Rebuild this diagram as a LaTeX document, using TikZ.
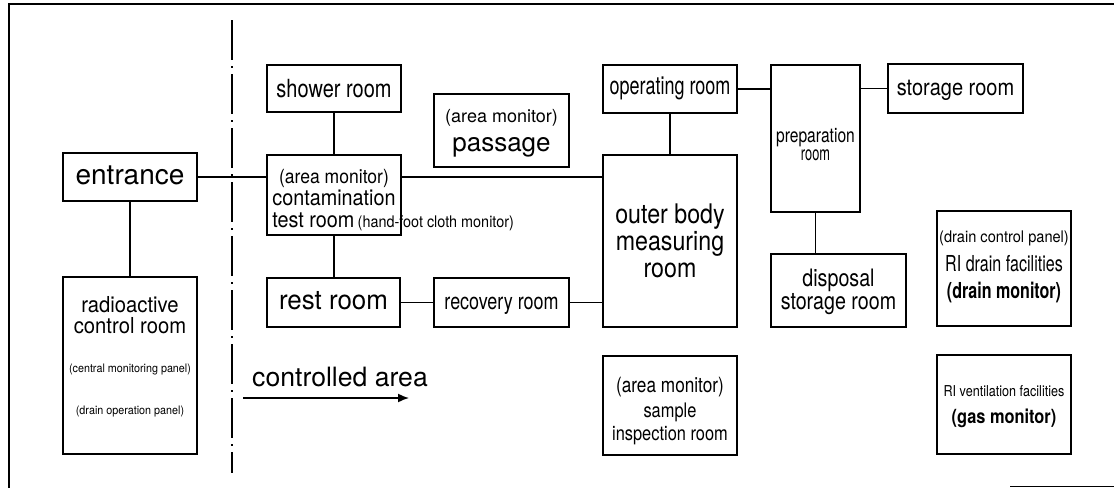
\documentclass[tikz,border=0pt]{standalone}
\usepackage{fontspec}
\setmainfont{TeX Gyre Heros}
\usepackage{graphicx}
\usepackage{calc}
\usepackage{array}
\usetikzlibrary{arrows.meta}

\newcommand{\fsz}[1]{\fontsize{#1}{#1}\selectfont}
% optional: lower the text by #1; #2 horizontal squeeze; #3 size; #4 line skip
\newcommand{\roomtxt}[5][0pt]{\raisebox{-#1}[\height][\depth]{\scalebox{#2}[1]{\fontsize{#3}{#4}\selectfont\begin{tabular}{@{}c@{}}#5\end{tabular}}}}

\tikzset{
  room/.style={draw, line width=1.5pt, inner sep=0pt, minimum width=134pt},
  link/.style={line width=1.3pt}
}

\begin{document}
\begin{tikzpicture}[x=1pt, y=-1pt]
  \useasboundingbox (0,0) rectangle (1114,488);
  \draw[line width=1.8pt] (1114,4) -- (9,4) -- (9,488);
  \draw[line width=1.5pt] (1010,486.5) -- (1114,486.5);

  \node[room, minimum height=48pt] (entr) at (130,177) {\roomtxt[2pt]{1}{28}{28}{entrance}};
  \node[room, minimum height=177pt] (rcr) at (130,365.5) {\roomtxt[-7pt]{0.92}{22}{22}{radioactive\\[-2pt]control room\\[17pt]\fsz{11.7}(central monitoring panel)\\[20pt]\fsz{11.7}(drain operation panel)}};
  \node[room, minimum height=47pt] (show) at (334,88.5) {\roomtxt[4pt]{0.8}{25}{25}{shower room}};
  \node[room, minimum height=80pt] (contam) at (334,195) {\roomtxt[6pt]{0.9}{22}{22}{\fsz{19.5}(area monitor)\\contamination\\\makebox[\widthof{contamination}][l]{test room\,\fsz{16}(hand-foot cloth monitor)}}};
  \node[room, minimum width=133pt, minimum height=49pt] (rest) at (333.5,302.5) {\roomtxt[2pt]{0.96}{27}{27}{rest room}};
  \node[room, minimum width=135pt, minimum height=49pt] (recov) at (501.5,302.5) {\roomtxt[2pt]{0.78}{23}{23}{recovery room}};
  \node[room, minimum width=135pt, minimum height=73pt] (pass) at (501.5,130.5) {\roomtxt[1pt]{1}{26}{29}{\fsz{18}(area monitor)\\passage}};
  \node[room, minimum height=48pt] (oper) at (670,89) {\roomtxt{0.72}{25}{25}{operating room}};
  \node[room, minimum height=172pt] (obm) at (670,241) {\roomtxt[4pt]{0.86}{27}{27}{outer body\\measuring\\room}};
  \node[room, minimum height=99pt] (samp) at (670,405.5) {\roomtxt[6pt]{0.82}{20}{23}{\fsz{21}(area monitor)\\[2pt]sample\\inspection room}};
  \node[room, minimum width=89pt, minimum height=147pt] (prep) at (815.5,138.5) {\roomtxt[9pt]{0.78}{20}{18}{preparation\\\scalebox{0.82}[1]{room}}};
  \node[room, minimum width=135pt, minimum height=49pt] (stor) at (955.5,88.5) {\roomtxt[2pt]{0.87}{23}{23}{storage room}};
  \node[room, minimum width=135pt, minimum height=73pt] (disp) at (838.5,290.5) {\roomtxt[2pt]{0.82}{24}{22}{disposal\\storage room}};
  \node[room, minimum height=115pt] (drain) at (1004,268.5) {\roomtxt[-3pt]{0.73}{22}{27}{\scalebox{1.25}[1]{\fsz{16}(drain control panel)}\\[2pt]RI drain facilities\\\textbf{(drain monitor)}}};
  \node[room, minimum height=99pt] (vent) at (1004,404.5) {\roomtxt{0.84}{19.5}{27}{\fsz{15}RI ventilation facilities\\\textbf{(gas monitor)}}};

  \draw[link] (entr.east) -- (entr.east -| contam.west);
  \draw[link] (contam.east |- entr.east) -- (entr.east -| obm.west);
  \draw[link] (entr.south) -- (rcr.north);
  \draw[link] (show.south) -- (contam.north);
  \draw[link] (contam.south) -- (contam.south |- rest.north);
  \draw[link] (rest.east) -- (recov.west);
  \draw[link] (recov.east) -- (recov.east -| obm.west);
  \draw[link] (oper.south) -- (obm.north);
  \draw[link] (oper.east) -- (oper.east -| prep.west);
  \draw[link] (stor.west -| prep.east) -- (stor.west);
  \draw[link] (prep.south) -- (prep.south |- disp.north);

  \coordinate (div-t) at (232,20);
  \coordinate (div-b) at (232,473);
  \draw[line width=1.3pt, dash pattern=on 40pt off 6pt on 2pt off 6pt] (div-t) -- (div-b);

  \node[anchor=base, font=\fsz{26.6}] (ctrl) at (340,386) {controlled area};
  \coordinate (arr-a) at (243,398);
  \coordinate (arr-b) at (409,398);
  \draw[line width=1.5pt, -{Latex[length=11pt,width=9pt]}] (arr-a) -- (arr-b);
\end{tikzpicture}
\end{document}
